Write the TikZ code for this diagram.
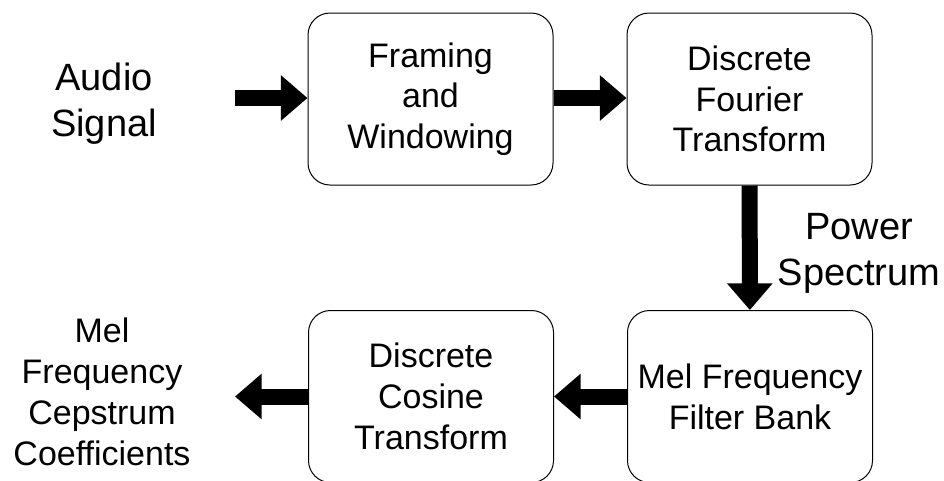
\documentclass[tikz,border=0pt]{standalone}
\usepackage{fontspec}
\setmainfont{Liberation Sans}
\usetikzlibrary{arrows.meta}

\begin{document}
\begin{tikzpicture}[x=0.75pt,y=-0.75pt,
  stage/.style={draw,line width=0.75pt,rounded corners=16.5pt,inner sep=2pt,minimum width=183.75pt,minimum height=129pt,align=center,font=\fontsize{25.5}{30.6}\selectfont},
  lbl/.style={align=center,font=\fontsize{25.5}{30.6}\selectfont},
  biglbl/.style={align=center,font=\fontsize{28.5}{34.5}\selectfont},
  flow/.style={line width=12pt,-{Triangle[width=33pt,length=20pt]}}]
\useasboundingbox (0,0) rectangle (944,480);
\node[stage] (frame) at (430.5,99) {Framing\\and\\Windowing};
\node[stage] (dft) at (749.5,99) {Discrete\\Fourier\\Transform};
\node[stage] (mel) at (750,396.5) {Mel Frequency\\Filter Bank};
\node[stage] (dct) at (431,396.5) {Discrete\\Cosine\\Transform};
\node[biglbl] (audio) at (104,104) {Audio\\Signal};
\node[biglbl] (power) at (859,253) {Power\\Spectrum};
\node[lbl] (mfcc) at (102,392) {Mel\\Frequency\\Cepstrum\\Coefficients};
\coordinate (inarr) at (235,98);
\coordinate (outarr) at (235,396.5);
\draw[flow] (inarr) -- (inarr -| frame.west);
\draw[flow] (frame.east |- inarr) -- (dft.west |- inarr);
\draw[flow] (dft) -- (mel);
\draw[flow] (mel) -- (dct);
\draw[flow] (dct) -- (outarr);
\end{tikzpicture}
\end{document}
